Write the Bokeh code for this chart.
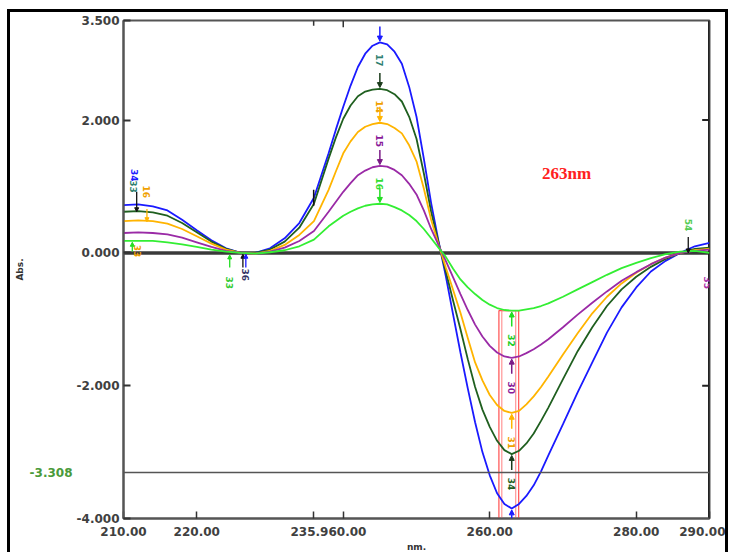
import math
from bokeh.plotting import figure
from bokeh.models import (FixedTicker, LinearAxis, Range1d, Label, Arrow, NormalHead,
                          Span, NumeralTickFormatter)
from bokeh.core.properties import value
from bokeh.embed import file_html
from bokeh.resources import INLINE

# ---------------- data ----------------
wavelength_nm = [210, 212, 214, 216, 218, 220, 222, 224, 226, 228, 230, 232, 234, 236,
                 238, 239, 240, 241, 242, 243, 244, 245, 246, 247, 248, 249, 250, 251,
                 252, 253, 254, 255, 256, 257, 258, 259, 260, 261, 262, 263, 264, 265,
                 266, 267, 268,
                 270, 272, 274, 276, 278, 280, 282, 284, 286, 288, 290]

abs_blue = [0.72, 0.73, 0.70, 0.64, 0.50, 0.34, 0.19, 0.07, 0.00, 0.00, 0.07, 0.22, 0.45, 0.83,
            1.50, 1.86, 2.20, 2.52, 2.80, 3.00, 3.12, 3.17, 3.14, 3.03, 2.85, 2.50, 2.05, 1.42,
            0.75, 0.18, -0.35, -0.93, -1.50, -2.04, -2.55, -3.00, -3.35, -3.62, -3.78, -3.85, -3.78, -3.66,
            -3.50, -3.29, -3.05,
            -2.58, -2.10, -1.65, -1.20, -0.82, -0.52, -0.28, -0.12, 0.00, 0.10, 0.15]

abs_darkgreen = [0.62, 0.63, 0.61, 0.56, 0.45, 0.31, 0.17, 0.06, 0.00, 0.00, 0.05, 0.17, 0.38, 0.74,
                 1.42, 1.74, 2.02, 2.22, 2.36, 2.43, 2.46, 2.47, 2.45, 2.39, 2.28, 2.05, 1.72, 1.20,
                 0.62, 0.16, -0.28, -0.72, -1.15, -1.60, -2.02, -2.36, -2.62, -2.83, -2.97, -3.03, -2.98, -2.87,
                 -2.72, -2.53, -2.33,
                 -1.90, -1.48, -1.12, -0.80, -0.55, -0.36, -0.21, -0.09, 0.00, 0.06, 0.08]

abs_orange = [0.48, 0.49, 0.48, 0.44, 0.36, 0.25, 0.14, 0.05, 0.00, -0.01, 0.03, 0.12, 0.27, 0.48,
              0.95, 1.23, 1.50, 1.68, 1.82, 1.90, 1.94, 1.96, 1.94, 1.88, 1.80, 1.62, 1.38, 0.97,
              0.50, 0.13, -0.22, -0.56, -0.90, -1.28, -1.65, -1.92, -2.14, -2.29, -2.38, -2.41, -2.38, -2.28,
              -2.16, -2.02, -1.86,
              -1.53, -1.21, -0.91, -0.66, -0.46, -0.30, -0.17, -0.07, 0.00, 0.04, 0.06]

abs_purple = [0.30, 0.31, 0.30, 0.28, 0.23, 0.16, 0.09, 0.03, 0.00, -0.01, 0.02, 0.08, 0.18, 0.33,
              0.62, 0.77, 0.92, 1.05, 1.17, 1.24, 1.29, 1.31, 1.30, 1.25, 1.17, 1.04, 0.88, 0.64,
              0.36, 0.12, -0.12, -0.37, -0.62, -0.86, -1.08, -1.26, -1.40, -1.50, -1.56, -1.58, -1.56, -1.51,
              -1.45, -1.38, -1.30,
              -1.12, -0.93, -0.75, -0.58, -0.42, -0.29, -0.17, -0.07, 0.00, 0.03, 0.05]

abs_lightgreen = [0.18, 0.18, 0.18, 0.16, 0.13, 0.09, 0.05, 0.02, 0.00, -0.01, 0.01, 0.04, 0.10, 0.20,
                  0.40, 0.48, 0.56, 0.62, 0.67, 0.71, 0.73, 0.74, 0.73, 0.69, 0.64, 0.57, 0.48, 0.36,
                  0.22, 0.08, -0.06, -0.24, -0.40, -0.52, -0.62, -0.71, -0.78, -0.83, -0.86, -0.87, -0.87, -0.85,
                  -0.83, -0.80, -0.76,
                  -0.66, -0.55, -0.44, -0.33, -0.23, -0.15, -0.08, -0.02, 0.02, 0.03, 0.00]

series = [abs_blue, abs_darkgreen, abs_orange, abs_purple, abs_lightgreen]
series_colors = ["#1a1aff", "#1f5f1f", "#ffb400", "#9a2aa6", "#33ee33"]
arrow_colors = ["#1a1aff", "#1a3a1a", "#ffb400", "#7a1a86", "#22dd22"]

peak_labels = ["17", "14", "15", "16", ""]
peak_label_colors = ["#2f7f70", "#f0a000", "#8a1a9a", "#33dd33", "#000000"]
trough_labels = ["", "34", "31", "30", "32"]
trough_label_colors = ["#1a1aff", "#1f5f1f", "#f0a000", "#8a1a9a", "#22cc22"]

x_ticks = [210, 220, 240, 260, 280, 290]
y_ticks = [-4, -2, 0, 2, 3.5]
cursor_x = 235.96
cursor_y = -3.308
marked_wavelength = 263
marked_text = "263nm"

# ---------------- figure ----------------
p = figure(width=715, height=540, x_range=Range1d(210, 290), y_range=Range1d(-4, 3.5),
           output_backend="svg", toolbar_location=None,
           min_border_left=113, min_border_right=22, min_border_top=8, min_border_bottom=37)
p.styles = {"box-sizing": "content-box", "margin-left": "7px", "margin-top": "9px",
            "border-left": "3px solid black", "border-top": "3px solid black",
            "border-right": "3px solid black"}
p.grid.visible = False
p.background_fill_color = "white"
p.border_fill_color = "white"
p.outline_line_color = "#555555"
p.outline_line_width = 2

tick_font = dict(major_label_text_font="DejaVu Sans", major_label_text_font_style="bold",
                 major_label_text_font_size="12px", major_label_text_color="#404040")

xa = p.xaxis[0]
xa.ticker = FixedTicker(ticks=sorted(x_ticks + [cursor_x]))
xa.formatter = NumeralTickFormatter(format="0.00")
# the cursor read-out covers the first two digits of the 240 label, as in the instrument print
xa.major_label_overrides = {240: "\u2007\u20070.00"}
xa.major_tick_in = 7
xa.major_tick_out = 0
xa.minor_tick_in = 0
xa.minor_tick_out = 0
xa.axis_line_color = "#555555"
xa.axis_line_width = 2
xa.major_tick_line_color = "#333333"
xa.major_tick_line_width = 1.5
xa.major_label_standoff = 6
for k, v in tick_font.items():
    setattr(xa, k, v)
xa.axis_label = "nm."
xa.axis_label_standoff = 0
xa.axis_label_text_font = "DejaVu Sans"
xa.axis_label_text_font_style = "bold"
xa.axis_label_text_font_size = "9px"
xa.axis_label_text_color = "#333333"

ya = p.yaxis[0]
ya.ticker = FixedTicker(ticks=y_ticks)
ya.formatter = NumeralTickFormatter(format="0.000")
ya.major_tick_in = 7
ya.major_tick_out = 0
ya.minor_tick_in = 0
ya.minor_tick_out = 0
ya.axis_line_color = "#555555"
ya.axis_line_width = 2
ya.major_tick_line_color = "#333333"
ya.major_tick_line_width = 2
ya.major_label_standoff = 4
for k, v in tick_font.items():
    setattr(ya, k, v)

# second left axis carrying the cursor read-out and the "Abs." title
cursor_axis = LinearAxis(ticker=FixedTicker(ticks=[cursor_y]),
                         formatter=NumeralTickFormatter(format="0.000"),
                         major_label_text_font="DejaVu Sans", major_label_text_font_style="bold",
                         major_label_text_font_size="12px", major_label_text_color="#4a9a3a",
                         major_tick_in=0, major_tick_out=0, minor_tick_in=0, minor_tick_out=0,
                         axis_line_color=None, major_tick_line_color=None,
                         major_label_standoff=1,
                         axis_label="Abs.", axis_label_standoff=2,
                         axis_label_text_font="DejaVu Sans", axis_label_text_font_style="bold",
                         axis_label_text_font_size="9px", axis_label_text_color="#333333")
p.add_layout(cursor_axis, "left")

# zero line and cursor line
p.add_layout(Span(location=0, dimension="width", line_color="#3a3a3a", line_width=3.5,
                  level="underlay"))
p.add_layout(Span(location=cursor_y, dimension="width", line_color="#555555", line_width=1.5))

# top-edge ticks (cursor / 240) and right-edge ticks, darker right frame edge
p.segment(x0=[cursor_x, 240], y0=[3.5, 3.5], x1=[cursor_x, 240], y1=[3.42, 3.40],
          line_color="#333333", line_width=1.5)
p.segment(x0=[290, 290], y0=[2, -2], x1=[289.0, 289.0], y1=[2, -2],
          line_color="#222222", line_width=2)
p.segment(x0=[290], y0=[-4], x1=[290], y1=[3.5], line_color="#222222", line_width=3)

# red marker box around 263 nm
trough_top = min(abs_lightgreen)
p.quad(left=[marked_wavelength - 1.75], right=[marked_wavelength + 0.95],
       top=[trough_top], bottom=[-4.0], fill_alpha=0, line_color="#ff5050", line_width=1.2)
p.quad(left=[marked_wavelength - 1.35], right=[marked_wavelength + 0.55],
       top=[trough_top], bottom=[-4.0], fill_alpha=0, line_color="#ff8080", line_width=1)

# spectra
for ys, c in zip(series, series_colors):
    p.line(wavelength_nm, ys, line_color=c, line_width=1.8)

# peak / trough pick arrows and labels
lab_x, lab_y, lab_t, lab_c = [], [], [], []
for ys, ac, pl, plc, tl, tlc in zip(series, arrow_colors, peak_labels, peak_label_colors,
                                    trough_labels, trough_label_colors):
    ip = ys.index(max(ys))
    it = ys.index(min(ys))
    xp, yp = wavelength_nm[ip], ys[ip]
    xt, yt = wavelength_nm[it], ys[it]
    p.add_layout(Arrow(end=NormalHead(size=5, fill_color=ac, line_color=ac),
                       x_start=xp, y_start=yp + 0.24, x_end=xp, y_end=yp + 0.02,
                       line_color=ac, line_width=1.5))
    p.add_layout(Arrow(end=NormalHead(size=5, fill_color=ac, line_color=ac),
                       x_start=xt, y_start=yt - (0.15 if tl == "" else 0.24),
                       x_end=xt, y_end=yt - 0.02, line_color=ac, line_width=1.5))
    if pl:
        lab_x.append(xp); lab_y.append(yp - 0.27); lab_t.append(pl); lab_c.append(plc)
    if tl:
        lab_x.append(xt); lab_y.append(yt - 0.45); lab_t.append(tl); lab_c.append(tlc)

# small pick marks at the left edge, the minimum near 226 nm and the crossing near 287 nm
extra_x = [211.3, 211.5, 213.2, 211.9, 224.5, 226.6, 287.1, 289.7]
extra_y = [1.00, 1.17, 0.92, 0.03, -0.45, -0.33, 0.42, -0.45]
extra_t = ["33", "34", "16", "33", "33", "36", "54", "35"]
extra_c = ["#2f7f70", "#1a1aff", "#f0a000", "#f0a000", "#33cc33", "#333366", "#55cc55", "#aa33aa"]
lab_x += extra_x; lab_y += extra_y; lab_t += extra_t; lab_c += extra_c

p.text(x=lab_x, y=lab_y, text=lab_t, text_color=lab_c, angle=-math.pi / 2,
       text_font=value("DejaVu Sans"), text_font_style="bold", text_font_size="9px",
       text_align="center", text_baseline="middle")

small_arrows = [(211.8, 0.92, 211.8, 0.62, "#111111"), (213.2, 0.66, 213.2, 0.47, "#ffb400"),
                (211.2, 0.02, 211.2, 0.16, "#22dd22"), (224.5, -0.22, 224.5, -0.03, "#22dd22"),
                (226.3, -0.22, 226.3, -0.02, "#111111"), (226.7, -0.22, 226.7, -0.02, "#1a1aff"),
                (287.1, 0.24, 287.1, 0.0, "#111111")]
for x0, y0, x1, y1, c in small_arrows:
    p.add_layout(Arrow(end=NormalHead(size=4, fill_color=c, line_color=c),
                       x_start=x0, y_start=y0, x_end=x1, y_end=y1,
                       line_color=c, line_width=1.3))

# cursor point mark on the spectrum
i_c = wavelength_nm.index(236)
p.segment(x0=[cursor_x], y0=[abs_blue[i_c] - 0.12], x1=[cursor_x], y1=[abs_blue[i_c] + 0.12],
          line_color="#111111", line_width=1.5)

# wavelength note
p.add_layout(Label(x=270.5, y=1.2, text=marked_text, text_color="#ff2020",
                   text_font="Liberation Serif", text_font_style="bold", text_font_size="17px",
                   text_align="center", text_baseline="middle"))

open("out.html", "w").write(file_html(p, INLINE))
